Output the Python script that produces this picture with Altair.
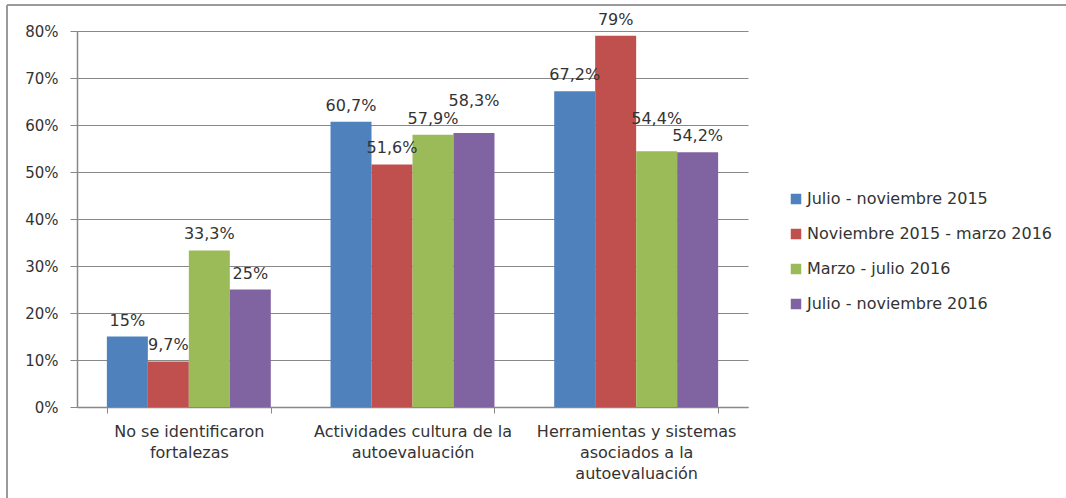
import altair as alt
import pandas as pd

# Categories (line breaks mark where each axis label wraps)
categories = [
    "No se identificaron\nfortalezas",
    "Actividades cultura de la\nautoevaluación",
    "Herramientas y sistemas\nasociados a la\nautoevaluación",
]

series = [
    "Julio - noviembre 2015",
    "Noviembre 2015 - marzo 2016",
    "Marzo - julio 2016",
    "Julio - noviembre 2016",
]

colors = ["#4F81BD", "#C0504D", "#9BBB59", "#8064A2"]

# Percent values, one list per period, in category order
jul_nov_2015 = [15, 60.7, 67.2]
nov_2015_mar_2016 = [9.7, 51.6, 79]
mar_jul_2016 = [33.3, 57.9, 54.4]
jul_nov_2016 = [25, 58.3, 54.2]

values_by_series = [jul_nov_2015, nov_2015_mar_2016, mar_jul_2016, jul_nov_2016]

rows = []
for s, vals in zip(series, values_by_series):
    for c, v in zip(categories, vals):
        rows.append({
            "categoria": c,
            "periodo": s,
            "valor": v,
            "etiqueta": f"{v:g}".replace(".", ",") + "%",
        })
df = pd.DataFrame(rows)

# Neighbouring bars of almost equal height would have colliding labels:
# raise the label of the taller one of such a pair.
LIFT = 3.5
df["y_etiqueta"] = df["valor"].astype(float)
for c in categories:
    idx = [df.index[(df.categoria == c) & (df.periodo == s)][0] for s in series]
    for a, b in zip(idx[:-1], idx[1:]):
        va, vb = df.at[a, "valor"], df.at[b, "valor"]
        if abs(va - vb) < LIFT:
            top = a if va > vb else b
            df.at[top, "y_etiqueta"] = df.at[top, "valor"] + LIFT

TEXT = "#333333"
GRID = "#888888"
FONT = "DejaVu Sans"

x_enc = alt.X(
    "categoria:N",
    sort=categories,
    title=None,
    scale=alt.Scale(paddingInner=0.267, paddingOuter=0.1335),
    axis=alt.Axis(
        labelAngle=0,
        labelExpr="split(datum.label, '\\n')",
        labelFontSize=16,
        labelColor=TEXT,
        labelFont=FONT,
        labelLineHeight=21,
        labelPadding=10,
        labelBaseline="top",
        labelLimit=0,
        tickBand="extent",
        tickSize=6,
        tickColor=GRID,
        domainColor=GRID,
        domainWidth=1.5,
        grid=False,
    ),
)

y_enc = alt.Y(
    "valor:Q",
    title=None,
    scale=alt.Scale(domain=[0, 80], nice=False, zero=True),
    axis=alt.Axis(
        values=[0, 10, 20, 30, 40, 50, 60, 70, 80],
        labelExpr="datum.value + '%'",
        labelFontSize=15,
        labelColor=TEXT,
        labelFont=FONT,
        labelPadding=12,
        tickSize=7,
        tickColor=GRID,
        domainColor=GRID,
        domainWidth=1.5,
        gridColor=GRID,
        gridWidth=1,
    ),
)

base = alt.Chart(df)

bars = base.mark_bar().encode(
    x=x_enc,
    xOffset=alt.XOffset("periodo:N", sort=series,
                        scale=alt.Scale(paddingInner=0, paddingOuter=0)),
    y=y_enc,
    color=alt.Color(
        "periodo:N",
        sort=series,
        scale=alt.Scale(domain=series, range=colors),
        legend=alt.Legend(
            title=None,
            orient="none",
            legendX=711,
            legendY=160,
            symbolType="square",
            symbolSize=110,
            symbolStrokeWidth=0,
            labelFontSize=16,
            labelFont=FONT,
            labelColor=TEXT,
            labelOffset=3,
            labelLimit=0,
            rowPadding=19,
        ),
    ),
)

labels = base.mark_text(
    baseline="alphabetic", dy=-11, fontSize=16, font=FONT, color=TEXT
).encode(
    x=alt.X("categoria:N", sort=categories),
    xOffset=alt.XOffset("periodo:N", sort=series),
    y=alt.Y("y_etiqueta:Q"),
    text="etiqueta:N",
)

# Outer frame: top and left edges
frame_df = pd.DataFrame({"k": [0]})
frame_top = alt.Chart(frame_df).mark_rule(color="#9a9a9a", strokeWidth=2).encode(
    x=alt.value(-70), x2=alt.value(995), y=alt.value(-26)
)
frame_left = alt.Chart(frame_df).mark_rule(color="#9a9a9a", strokeWidth=2).encode(
    x=alt.value(-70), y=alt.value(-26), y2=alt.value(470)
)

chart = (
    alt.layer(bars, labels, frame_top, frame_left)
    .properties(
        width=671,
        height=376,
        autosize=alt.AutoSizeParams(type="none"),
        padding={"left": 77, "top": 31, "right": 318, "bottom": 91},
        background="white",
    )
    .configure_view(stroke=None)
)

chart.save("out.html", embed_options={"renderer": "svg", "actions": False})
